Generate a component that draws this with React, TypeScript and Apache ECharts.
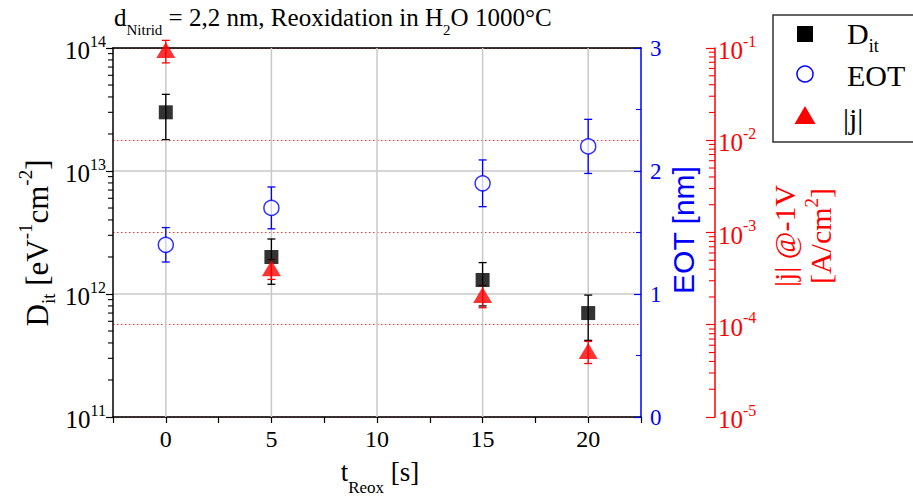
import React, { useEffect, useRef } from 'react';
import * as echarts from 'echarts';

const SERIF = 'Liberation Serif';
const SANS = 'Liberation Sans';

// data
const tReox = [0, 5, 15, 20];
const dit = [3.0e13, 2.0e12, 1.3e12, 7.0e11];
const ditErr = [1.2e13, 0.8e12, 0.5e12, 0.28e12];
const eot = [1.4, 1.7, 1.9, 2.2];
const eotErr = [0.14, 0.17, 0.19, 0.22];
const jAbs = [0.095, 4.1e-4, 2.1e-4, 5.2e-5];
const jErr = [0.026, 1.0e-4, 0.57e-4, 1.4e-5];

// axis ticks
const xGridTicks = [0, 5, 10, 15, 20];
const ditDecades = [11, 12, 13];
const jDecades = [-5, -4, -3, -2];
const minorMultipliers = [2, 3, 4, 5, 6, 7, 8, 9];

const supRich = (color: string) => ({
  m: { fontFamily: SERIF, fontSize: 25, lineHeight: 30, verticalAlign: 'bottom', color },
  s: { fontFamily: SERIF, fontSize: 16, lineHeight: 30, verticalAlign: 'top', color },
});

const errSeries = (yAxisIndex: number, vals: number[], errs: number[], color: string) => ({
  type: 'custom',
  xAxisIndex: 0,
  yAxisIndex,
  silent: true,
  z: 3,
  data: tReox.map((x, i) => [x, vals[i] - errs[i], vals[i] + errs[i]]),
  encode: { x: 0, y: [1, 2] },
  renderItem: (params: any, api: any) => {
    const x = api.value(0);
    const lo = api.coord([x, api.value(1)]);
    const hi = api.coord([x, api.value(2)]);
    const w = 4;
    const style = { stroke: color, lineWidth: 1.3 };
    return {
      type: 'group',
      children: [
        { type: 'line', shape: { x1: lo[0], y1: lo[1], x2: hi[0], y2: hi[1] }, style },
        { type: 'line', shape: { x1: lo[0] - w, y1: lo[1], x2: lo[0] + w, y2: lo[1] }, style },
        { type: 'line', shape: { x1: hi[0] - w, y1: hi[1], x2: hi[0] + w, y2: hi[1] }, style },
      ],
    };
  },
});

const minorTickSeries = (yAxisIndex: number, decades: number[], side: 'left' | 'red', color: string, len: number) => ({
  type: 'custom',
  xAxisIndex: 0,
  yAxisIndex,
  silent: true,
  z: 5,
  data: decades.flatMap((d) => minorMultipliers.map((k) => [0, k * Math.pow(10, d)])),
  encode: { x: 0, y: 1 },
  renderItem: (params: any, api: any) => {
    const cs = params.coordSys;
    const y = api.coord([0, api.value(1)])[1];
    const x0 = side === 'left' ? cs.x : cs.x + cs.width + 74;
    const x1 = side === 'left' ? cs.x - len : x0 - len;
    return { type: 'line', shape: { x1: x0, y1: y, x2: x1, y2: y }, style: { stroke: color, lineWidth: 1.1 } };
  },
});

const option: any = {
  animation: false,
  backgroundColor: '#fff',
  textStyle: { fontFamily: SERIF },
  grid: { left: 113, top: 48, width: 528, height: 369, containLabel: false },
  xAxis: [
    {
      type: 'value', min: -2.5, max: 22.5, interval: 2.5, position: 'bottom',
      axisLine: { show: true, onZero: false, lineStyle: { color: '#000', width: 1.5 } },
      axisTick: { show: true, inside: false, length: 6, lineStyle: { color: '#000', width: 1.2 } },
      axisLabel: {
        interval: 0, margin: 10, color: '#000', fontFamily: SERIF, fontSize: 24,
        formatter: (v: number) => (v >= 0 && v <= 20 && Math.abs(v % 5) < 1e-9 ? String(v) : ''),
      },
      splitLine: { show: false },
    },
    {
      type: 'value', min: -2.5, max: 22.5, position: 'top',
      axisLine: { show: true, onZero: false, lineStyle: { color: '#000', width: 1.5 } },
      axisTick: { show: false }, axisLabel: { show: false }, splitLine: { show: false },
    },
  ],
  yAxis: [
    {
      type: 'log', logBase: 10, min: 1e11, max: 1e14, position: 'left',
      axisLine: { show: true, onZero: false, lineStyle: { color: '#000', width: 1.5 } },
      axisTick: { show: true, inside: false, length: 7, lineStyle: { color: '#000', width: 1.2 } },
      axisLabel: {
        margin: 7, fontFamily: SERIF, fontSize: 25, lineHeight: 30, color: '#000',
        formatter: (v: number) => `{m|10}{s|${Math.round(Math.log10(v))}}`,
        rich: supRich('#000'),
      },
      splitLine: { show: true, lineStyle: { color: '#c8c8c8', width: 1.5 } },
    },
    {
      type: 'value', min: 0, max: 3, interval: 1, position: 'right',
      axisLine: { show: true, onZero: false, lineStyle: { color: '#0000ff', width: 1.5 } },
      axisTick: { show: true, inside: true, length: 7, lineStyle: { color: '#0000ff', width: 1.2 } },
      minorTick: { show: true, splitNumber: 2, length: 5, lineStyle: { color: '#0000ff', width: 1.1 } },
      axisLabel: { margin: 9, color: '#0000ff', fontFamily: SERIF, fontSize: 23 },
      splitLine: { show: false },
    },
    {
      type: 'log', logBase: 10, min: 1e-5, max: 1e-1, position: 'right', offset: 74,
      axisLine: { show: true, onZero: false, lineStyle: { color: '#ff0000', width: 1.5 } },
      axisTick: { show: true, inside: true, length: 9, lineStyle: { color: '#ff0000', width: 1.2 } },
      axisLabel: {
        margin: 3, fontFamily: SERIF, fontSize: 25, lineHeight: 30, color: '#ff0000',
        formatter: (v: number) => `{m|10}{s|${Math.round(Math.log10(v))}}`,
        rich: supRich('#ff0000'),
      },
      splitLine: { show: true, lineStyle: { color: '#ff3030', width: 1.2, type: [1.5, 2.5] } },
    },
  ],
  series: [
    {
      type: 'custom', xAxisIndex: 0, yAxisIndex: 0, silent: true, z: 1,
      data: xGridTicks.map((v) => [v, 1e12]),
      encode: { x: 0, y: 1 },
      renderItem: (params: any, api: any) => {
        const cs = params.coordSys;
        const x = api.coord([api.value(0), 1e12])[0];
        return { type: 'line', shape: { x1: x, y1: cs.y, x2: x, y2: cs.y + cs.height }, style: { stroke: '#c8c8c8', lineWidth: 1.5 } };
      },
    },
    minorTickSeries(0, ditDecades, 'left', '#000', 5),
    minorTickSeries(2, jDecades, 'red', '#ff0000', 6),
    errSeries(0, dit, ditErr, '#000'),
    errSeries(1, eot, eotErr, '#0000ff'),
    errSeries(2, jAbs, jErr, '#ff0000'),
    {
      type: 'scatter', name: 'Dit', xAxisIndex: 0, yAxisIndex: 0, z: 4, clip: false,
      symbol: 'rect', symbolSize: 14, itemStyle: { color: '#000' },
      data: tReox.map((x, i) => [x, dit[i]]),
    },
    {
      type: 'scatter', name: 'EOT', xAxisIndex: 0, yAxisIndex: 1, z: 4, clip: false,
      symbol: 'circle', symbolSize: 15, itemStyle: { color: '#fff', borderColor: '#0000ff', borderWidth: 1.5 },
      data: tReox.map((x, i) => [x, eot[i]]),
    },
    {
      type: 'scatter', name: 'j', xAxisIndex: 0, yAxisIndex: 2, z: 4, clip: false,
      symbol: 'triangle', symbolSize: [19, 16], itemStyle: { color: '#ff0000' },
      data: tReox.map((x, i) => [x, jAbs[i]]),
    },
  ],
  graphic: [
    {
      type: 'text', x: 114, y: 5, z: 100,
      style: {
        text: '{a|d}{b|Nitrid}{a| = 2,2 nm, Reoxidation in H}{b|2}{a|O 1000°C}',
        align: 'left', verticalAlign: 'top', fontFamily: SERIF, fill: '#000',
        rich: {
          a: { fontFamily: SERIF, fontSize: 25, lineHeight: 32, verticalAlign: 'top', fill: '#000' },
          b: { fontFamily: SERIF, fontSize: 15, lineHeight: 32, verticalAlign: 'bottom', fill: '#000' },
        },
      },
    },
    {
      type: 'text', x: 37, y: 243, rotation: Math.PI / 2, z: 100,
      style: {
        text: '{m|D}{sub|it}{m| [eV}{sup|-1}{m|cm}{sup|-2}{m|]}',
        align: 'center', verticalAlign: 'middle', fontFamily: SERIF, fill: '#000',
        rich: {
          m: { fontFamily: SERIF, fontSize: 31, lineHeight: 42, verticalAlign: 'middle', fill: '#000' },
          sub: { fontFamily: SERIF, fontSize: 19, lineHeight: 42, verticalAlign: 'bottom', fill: '#000' },
          sup: { fontFamily: SERIF, fontSize: 19, lineHeight: 42, verticalAlign: 'top', fill: '#000' },
        },
      },
    },
    {
      type: 'text', x: 380, y: 458, z: 100,
      style: {
        text: '{m|t}{s|Reox}{m| [s]}',
        align: 'center', verticalAlign: 'top', fontFamily: SERIF, fill: '#000',
        rich: {
          m: { fontFamily: SERIF, fontSize: 27, lineHeight: 38, verticalAlign: 'top', fill: '#000' },
          s: { fontFamily: SERIF, fontSize: 17, lineHeight: 38, verticalAlign: 'bottom', fill: '#000' },
        },
      },
    },
    {
      type: 'text', x: 683, y: 230, rotation: Math.PI / 2, z: 100,
      style: { text: 'EOT [nm]', align: 'center', verticalAlign: 'middle', fontFamily: SANS, fontSize: 30, fill: '#0000ff' },
    },
    {
      type: 'text', x: 802, y: 236, rotation: Math.PI / 2, z: 100,
      style: {
        text: '{m||j| @-1V}\n{m|[A/cm}{s|2}{m|]}', align: 'center', verticalAlign: 'middle',
        fontFamily: SERIF, fill: '#ff0000',
        rich: {
          m: { fontFamily: SERIF, fontSize: 30, lineHeight: 36, verticalAlign: 'middle', fill: '#ff0000' },
          s: { fontFamily: SERIF, fontSize: 19, lineHeight: 36, verticalAlign: 'top', fill: '#ff0000' },
        },
      },
    },
    {
      type: 'group', z: 100,
      children: [
        { type: 'rect', shape: { x: 773, y: 15, width: 160, height: 127 }, style: { fill: '#fff', stroke: '#333', lineWidth: 1.5 } },
        { type: 'rect', shape: { x: 797, y: 26, width: 16, height: 16 }, style: { fill: '#000' } },
        { type: 'circle', shape: { cx: 805, cy: 74, r: 8 }, style: { fill: '#fff', stroke: '#0000ff', lineWidth: 1.5 } },
        { type: 'polygon', shape: { points: [[805, 106], [794.5, 124], [815.5, 124]] }, style: { fill: '#ff0000' } },
        {
          type: 'text', x: 847, y: 18,
          style: {
            text: '{m|D}{s|it}', align: 'left', verticalAlign: 'top', fontFamily: SERIF, fill: '#000',
            rich: {
              m: { fontFamily: SERIF, fontSize: 30, lineHeight: 37, verticalAlign: 'top', fill: '#000' },
              s: { fontFamily: SERIF, fontSize: 18, lineHeight: 37, verticalAlign: 'bottom', fill: '#000' },
            },
          },
        },
        { type: 'text', x: 847, y: 75, style: { text: 'EOT', align: 'left', verticalAlign: 'middle', fontFamily: SERIF, fontSize: 30, fill: '#000' } },
        { type: 'text', x: 843, y: 118, style: { text: '|j|', align: 'left', verticalAlign: 'middle', fontFamily: SERIF, fontSize: 30, fill: '#000' } },
      ],
    },
  ],
};

export default function App() {
  const ref = useRef<HTMLDivElement>(null);
  useEffect(() => {
    const chart = echarts.init(ref.current!, undefined, { renderer: 'svg' });
    chart.setOption(option);
    return () => chart.dispose();
  }, []);
  return (
    <div
      ref={ref}
      style={{ position: 'absolute', left: 0, top: 0, width: 913, height: 497, background: '#fff' }}
    />
  );
}
